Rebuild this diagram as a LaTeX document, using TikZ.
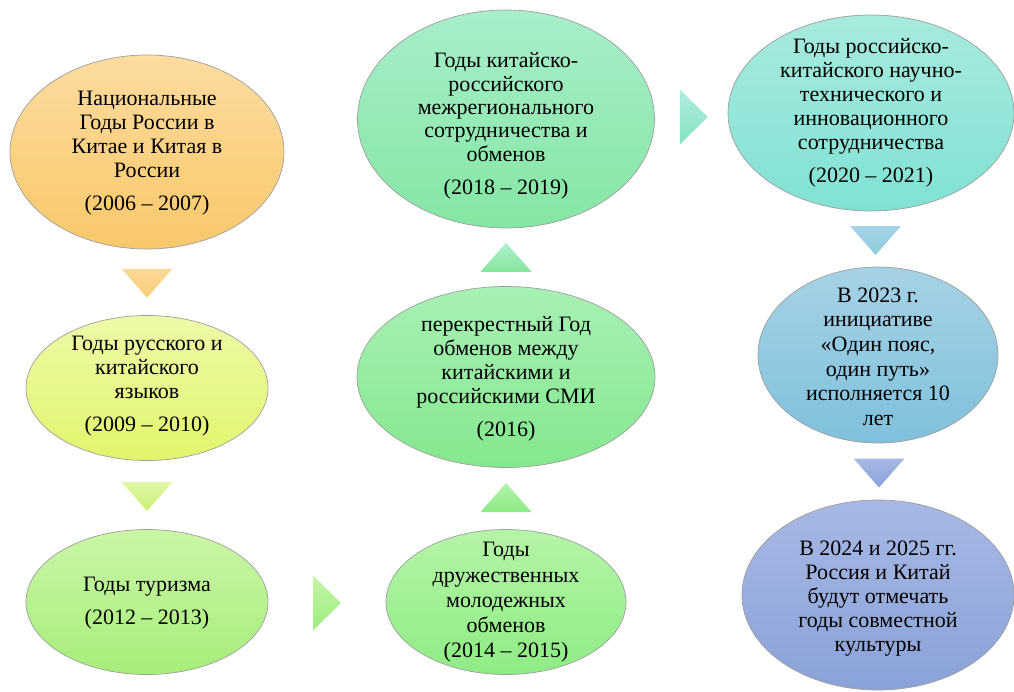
\documentclass[tikz,border=0pt]{standalone}
\usepackage{fontspec}
\setmainfont{Liberation Serif}
\usetikzlibrary{shapes.geometric,calc}
\tikzset{
  bubble/.style={ellipse, draw=black!38, line width=0.7pt, inner sep=0pt},
  txt/.style={align=center, inner sep=0pt, font=\fontsize{22}{24}\selectfont, text=black},
  downtri/.pic={\path[pic actions] (-25.5,-14.5) -- (25.5,-14.5) -- (0,14.5) -- cycle;},
  uptri/.pic={\path[pic actions] (-25.5,14.5) -- (25.5,14.5) -- (0,-14.5) -- cycle;},
  righttri/.pic={\path[pic actions] (-14,-27.5) -- (-14,27.5) -- (14,0) -- cycle;},
}
\definecolor{o1}{HTML}{FDDCA0}\definecolor{o2}{HTML}{F8C86A}
\definecolor{y1}{HTML}{EEF9A8}\definecolor{y2}{HTML}{E2F56C}
\definecolor{g1}{HTML}{CAF6A6}\definecolor{g2}{HTML}{A6EE7A}
\definecolor{h1}{HTML}{B6F4A8}\definecolor{h2}{HTML}{8EEC84}
\definecolor{k1}{HTML}{A8F0B4}\definecolor{k2}{HTML}{84E88E}
\definecolor{m1}{HTML}{A8EECA}\definecolor{m2}{HTML}{84E6A4}
\definecolor{n1}{HTML}{A8EADE}\definecolor{n2}{HTML}{80E2D4}
\definecolor{p1}{HTML}{A6D2E6}\definecolor{p2}{HTML}{80C0DC}
\definecolor{q1}{HTML}{A8B8E4}\definecolor{q2}{HTML}{8AA2D8}
\begin{document}
\begin{tikzpicture}[x=1pt,y=-1pt]
\useasboundingbox (0,0) rectangle (1014,691);
% ellipses
\node[bubble, minimum width=274, minimum height=194, top color=o1, bottom color=o2] (e1) at (147,152) {};
\node[bubble, minimum width=242, minimum height=145, top color=y1, bottom color=y2] (e2) at (147,388) {};
\node[bubble, minimum width=242, minimum height=145, top color=g1, bottom color=g2] (e3) at (147,602) {};
\node[bubble, minimum width=240, minimum height=145, top color=h1, bottom color=h2] (e4) at (506,602) {};
\node[bubble, minimum width=298, minimum height=181, top color=k1, bottom color=k2] (e5) at (506,377) {};
\node[bubble, minimum width=297, minimum height=218, top color=m1, bottom color=m2] (e6) at (506,119) {};
\node[bubble, minimum width=286, minimum height=196, top color=n1, bottom color=n2] (e7) at (871,113) {};
\node[bubble, minimum width=240, minimum height=176, top color=p1, bottom color=p2] (e8) at (878,355) {};
\node[bubble, minimum width=272, minimum height=190, top color=q1, bottom color=q2] (e9) at (878,595) {};
% texts
\node[txt] (t1) at ($(e1)+(0,1.5)$) {Национальные\\Годы России в\\Китае и Китая в\\России\\[9pt](2006 – 2007)};
\node[txt] (t2) at ($(e2)+(0,-1.5)$) {Годы русского и\\китайского\\языков\\[9pt](2009 – 2010)};
\node[txt] (t3) at ($(e3)+(0,1.5)$) {Годы туризма\\[9pt](2012 – 2013)};
\node[txt, font=\fontsize{22}{25.3}\selectfont] (t4) at ($(e4)+(0,0.5)$) {Годы\\дружественных\\молодежных\\обменов\\(2014 – 2015)};
\node[txt] (t5) at ($(e5)+(0,1.5)$) {перекрестный Год\\обменов между\\китайскими и\\российскими СМИ\\[9pt](2016)};
\node[txt, font=\fontsize{22}{23.3}\selectfont] (t6) at ($(e6)+(0,7)$) {Годы китайско-\\российского\\межрегионального\\сотрудничества и\\обменов\\[10pt](2018 – 2019)};
\node[txt] (t7) at ($(e7)+(0,0)$) {Годы российско-\\китайского научно-\\технического и\\инновационного\\сотрудничества\\[9pt](2020 – 2021)};
\node[txt, font=\fontsize{22}{24.6}\selectfont] (t8) at ($(e8)+(0,1.5)$) {В 2023 г.\\инициативе\\«Один пояс,\\один путь»\\исполняется 10\\лет};
\node[txt] (t9) at ($(e9)+(0,3.5)$) {В 2024 и 2025 гг.\\Россия и Китай\\будут отмечать\\годы совместной\\культуры};
% connector triangles
\coordinate (c1) at ($(e1.south)!0.5!(e2.north)$);
\coordinate (c2) at ($(e2.south)!0.5!(e3.north)$);
\coordinate (c3) at ($(e3.east)!0.5!(e4.west)$);
\coordinate (c4) at ($(e4.north)!0.5!(e5.south)$);
\coordinate (c5) at ($(e5.north)!0.5!(e6.south)$);
\coordinate (c6) at ($(e6.east)!0.5!(e7.west)$);
\coordinate (c7) at ($(e7.south)!0.5!(e8.north)$);
\coordinate (c8) at ($(e8.south)!0.5!(e9.north)$);
\pic[top color=o1!80!o2, bottom color=o2!90!white] at ($(c1)+(0,1)$) {downtri};
\pic[top color=y1!60!g1, bottom color=y2!60!g2] at ($(c2)+(0,1.5)$) {downtri};
\pic[top color=g1!70!h1, bottom color=g2!60!h2] at ($(c3)+(0,1)$) {righttri};
\pic[top color=h1!80!k1, bottom color=h2!80!k2] at ($(c4)+(0,-1)$) {uptri};
\pic[top color=m1!90!white, bottom color=k2!50!m2] at (c5) {uptri};
\pic[top color=n1!90!white, bottom color=m2!40!n2] at ($(c6)+(2.5,1)$) {righttri};
\pic[top color=p1, bottom color=p2!70!n1] at ($(c7)+(1,1.5)$) {downtri};
\pic[top color=q1, bottom color=q2] at ($(c8)+(1,1.5)$) {downtri};
\end{tikzpicture}
\end{document}
